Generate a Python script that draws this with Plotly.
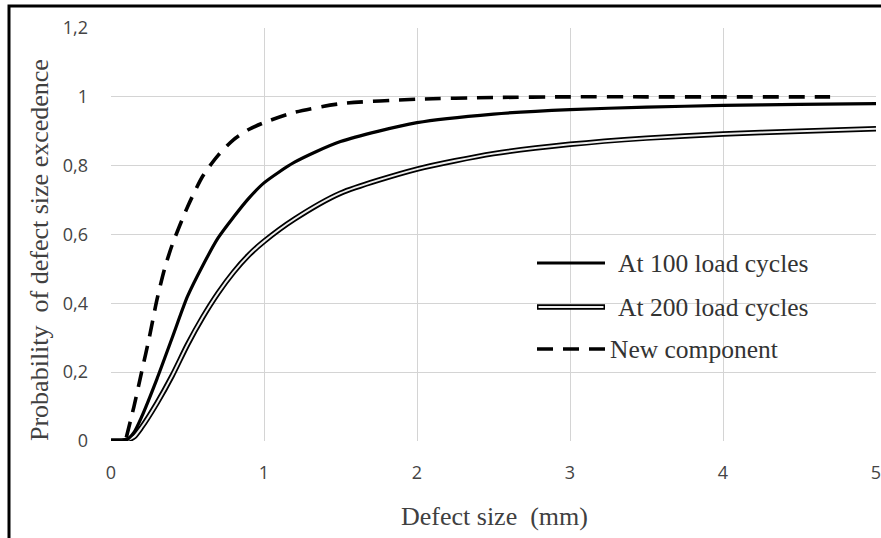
import plotly.graph_objects as go

# Data
x_100 = [0, 0.05, 0.1, 0.15, 0.2, 0.3, 0.4, 0.5, 0.6, 0.7, 0.8, 0.9, 1.0, 1.2, 1.5, 2.0, 2.5, 3.0, 3.5, 4.0, 4.5, 5.0]
y_100 = [0, 0, 0.003, 0.025, 0.07, 0.18, 0.3, 0.42, 0.51, 0.59, 0.65, 0.705, 0.75, 0.81, 0.87, 0.925, 0.95, 0.963, 0.97, 0.975, 0.978, 0.98]

x_200 = [0, 0.05, 0.1, 0.15, 0.2, 0.3, 0.4, 0.5, 0.6, 0.7, 0.8, 0.9, 1.0, 1.2, 1.5, 2.0, 2.5, 3.0, 3.5, 4.0, 4.5, 5.0]
y_200 = [0, 0, 0.002, 0.012, 0.04, 0.11, 0.19, 0.28, 0.36, 0.43, 0.49, 0.54, 0.58, 0.645, 0.72, 0.79, 0.835, 0.862, 0.88, 0.892, 0.9, 0.907]

x_new = [0.1, 0.15, 0.2, 0.25, 0.3, 0.35, 0.4, 0.5, 0.6, 0.7, 0.8, 0.9, 1.0, 1.2, 1.5, 2.0, 2.5, 3.0, 3.5, 4.0, 4.7]
y_new = [0.01, 0.1, 0.2, 0.3, 0.41, 0.5, 0.57, 0.68, 0.77, 0.83, 0.875, 0.905, 0.925, 0.955, 0.98, 0.993, 0.998, 1.0, 1.0, 1.0, 1.0]

x_ticks = [0, 1, 2, 3, 4, 5]
y_ticks = [0, 0.2, 0.4, 0.6, 0.8, 1.0, 1.2]
y_tick_text = ["0", "0,2", "0,4", "0,6", "0,8", "1", "1,2"]

legend_names = ["At 100 load cycles", "At 200 load cycles", "New component"]
x_title = "Defect size  (mm)"
y_title = "Probability  of defect size excedence"

fig = go.Figure()

fig.add_trace(go.Scatter(x=x_200, y=y_200, mode="lines", line=dict(color="black", width=5.5, shape="spline", smoothing=0.7),
                         name=legend_names[1], showlegend=False, hoverinfo="skip"))
fig.add_trace(go.Scatter(x=x_200, y=y_200, mode="lines", line=dict(color="#eeeeee", width=2, shape="spline", smoothing=0.7),
                         name=legend_names[1], showlegend=False))
fig.add_trace(go.Scatter(x=x_100, y=y_100, mode="lines", line=dict(color="black", width=3.2, shape="spline", smoothing=0.7),
                         name=legend_names[0], showlegend=False))
fig.add_trace(go.Scatter(x=x_new, y=y_new, mode="lines", line=dict(color="black", width=3.6, dash="16px,10px", shape="spline", smoothing=0.7),
                         name=legend_names[2], showlegend=False))

# Plot area geometry: left 111, right 876, top 28, bottom 441 in a 881x538 canvas
W, H = 881, 538
L, R, T, B = 111, 876, 28, 441
pw, ph = R - L, B - T

def px(xp):
    return (xp - L) / pw

def py(yp):
    return (B - yp) / ph

shapes = []
annotations = []

# manual legend
rows = [263, 307, 349]
for i, (name, yy) in enumerate(zip(legend_names, rows)):
    if i == 0:
        shapes.append(dict(type="line", xref="paper", yref="paper", x0=px(537), x1=px(605), y0=py(yy), y1=py(yy),
                           line=dict(color="black", width=3.2)))
        tx = 616
    elif i == 1:
        shapes.append(dict(type="line", xref="paper", yref="paper", x0=px(537), x1=px(605), y0=py(yy), y1=py(yy),
                           line=dict(color="black", width=5.5)))
        shapes.append(dict(type="line", xref="paper", yref="paper", x0=px(538.5), x1=px(603.5), y0=py(yy), y1=py(yy),
                           line=dict(color="#eeeeee", width=2)))
        tx = 616
    else:
        shapes.append(dict(type="line", xref="paper", yref="paper", x0=px(537), x1=px(605), y0=py(yy), y1=py(yy),
                           line=dict(color="black", width=3.6, dash="16px,10px")))
        tx = 608
    annotations.append(dict(xref="paper", yref="paper", x=px(tx), y=py(yy), text=name, showarrow=False,
                            xanchor="left", yanchor="middle",
                            font=dict(family="Liberation Serif", size=25.5, color="#333333")))

# axis titles
annotations.append(dict(xref="paper", yref="paper", x=px(39), y=py(250), text=y_title, textangle=-90,
                        showarrow=False, xanchor="center", yanchor="middle",
                        font=dict(family="Liberation Serif", size=26, color="#404040")))
annotations.append(dict(xref="paper", yref="paper", x=px(494), y=py(516), text=x_title,
                        showarrow=False, xanchor="center", yanchor="middle",
                        font=dict(family="Liberation Serif", size=26, color="#404040")))

# outer frame
shapes.append(dict(type="rect", xref="paper", yref="paper", x0=px(9), x1=px(900), y0=py(6), y1=py(560),
                   line=dict(color="black", width=3), layer="above"))

fig.update_layout(
    width=W, height=H,
    margin=dict(l=L, r=W - R, t=T, b=H - B, autoexpand=False),
    paper_bgcolor="white", plot_bgcolor="white",
    showlegend=False,
    shapes=shapes, annotations=annotations,
    xaxis=dict(range=[0, 5], tickvals=x_ticks, showgrid=True, gridcolor="#d4d4d4", gridwidth=1.3,
               zeroline=False, showline=False, ticks="", ticklabelstandoff=19, ticklabeloverflow="allow",
               tickfont=dict(family="Open Sans", size=18, color="#444444")),
    yaxis=dict(range=[0, 1.2], tickvals=y_ticks, ticktext=y_tick_text, showgrid=True, gridcolor="#d4d4d4", gridwidth=1.3,
               zeroline=False, showline=False, ticks="", ticklabelstandoff=22, ticklabeloverflow="allow",
               tickfont=dict(family="Open Sans", size=18, color="#444444")),
)

fig.write_html("out.html", config={"displayModeBar": False},
               post_script="document.body.style.margin='0px';")
